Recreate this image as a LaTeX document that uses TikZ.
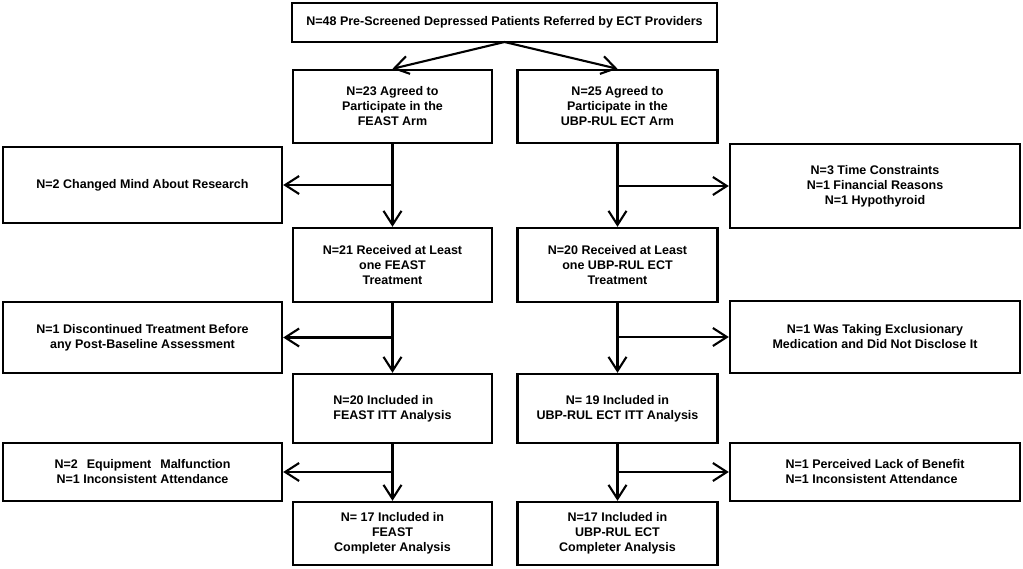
\documentclass[tikz,border=0pt]{standalone}
\usepackage{fontspec}
\setmainfont{Liberation Sans}
\usetikzlibrary{arrows.meta}
\begin{document}
\begin{tikzpicture}[x=1pt,y=-1pt,
  box/.style={draw, line width=2.4pt, rectangle, inner sep=0pt, align=center,
    font=\fontsize{12.5}{15}\selectfont\bfseries},
  txt/.style={align=left, font=\fontsize{12.5}{15}\selectfont\bfseries},
  arr/.style={line width=2.1pt, -{Straight Barb[length=14pt,width=18pt,line width=2.1pt]}}]
\useasboundingbox (0,0) rectangle (1023,569);
\node[box, minimum width=425pt, minimum height=39pt] (top) at (504.5,22.5)
  {N=48 Pre-Screened Depressed Patients Referred by ECT Providers};
\node[box, minimum width=199pt, minimum height=73pt] (f1) at (392.5,106.5)
  {N=23 Agreed to\\Participate in the\\FEAST Arm};
\node[box, minimum width=200pt, minimum height=73pt] (u1) at (617.5,106.5)
  {N=25 Agreed to\\Participate in the\\UBP-RUL ECT Arm};
\node[box, minimum width=279pt, minimum height=76pt] (l1) at (142.5,185)
  {N=2 Changed Mind About Research};
\node[box, minimum width=290pt, minimum height=84pt] (r1) at (875,186)
  {N=3 Time Constraints\\N=1 Financial Reasons\\N=1 Hypothyroid};
\node[box, minimum width=199pt, minimum height=74pt] (f2) at (392.5,265)
  {N=21 Received at Least\\one FEAST\\Treatment};
\node[box, minimum width=200pt, minimum height=74pt] (u2) at (617.5,265)
  {N=20 Received at Least\\one UBP-RUL ECT\\Treatment};
\node[box, minimum width=279pt, minimum height=71pt] (l2) at (142.5,337.5)
  {N=1 Discontinued Treatment Before\\any Post-Baseline Assessment};
\node[box, minimum width=290pt, minimum height=72pt] (r2) at (875,337)
  {N=1 Was Taking Exclusionary\\Medication and Did Not Disclose It};
\node[box, minimum width=199pt, minimum height=69pt] (f3) at (392.5,408.5) {};
\node[txt] (f3t) at (f3.center) {N=20 Included in\\FEAST ITT Analysis};
\node[box, minimum width=200pt, minimum height=69pt] (u3) at (617.5,408.5)
  {N= 19 Included in\\UBP-RUL ECT ITT Analysis};
\node[box, minimum width=279pt, minimum height=58pt] (l3) at (142.5,472)
  {N=2\hspace{9pt}Equipment\hspace{9pt}Malfunction\\N=1 Inconsistent Attendance};
\node[box, minimum width=290pt, minimum height=58pt] (r3) at (875,472) {};
\node[txt] (r3t) at (r3.center) {N=1 Perceived Lack of Benefit\\N=1 Inconsistent Attendance};
\node[box, minimum width=199pt, minimum height=63pt] (f4) at (392.5,533.5)
  {N= 17 Included in\\FEAST\\Completer Analysis};
\node[box, minimum width=200pt, minimum height=63pt] (u4) at (617.5,533.5)
  {N=17 Included in\\UBP-RUL ECT\\Completer Analysis};
% top split
\coordinate (ts) at (504.5,42);
\draw[arr] (ts) -- (f1.north);
\draw[arr] (ts) -- (u1.north);
% FEAST column
\draw[arr] (f1.south) -- (f2.north);
\draw[arr] (f2.south) -- (f3.north);
\draw[arr] (f3.south) -- (f4.north);
\draw[arr] (f1.south |- l1.east) -- (l1.east);
\draw[arr] (f2.south |- l2.east) -- (l2.east);
\draw[arr] (f3.south |- l3.east) -- (l3.east);
% UBP column
\draw[arr] (u1.south) -- (u2.north);
\draw[arr] (u2.south) -- (u3.north);
\draw[arr] (u3.south) -- (u4.north);
\draw[arr] (u1.south |- r1.west) -- (r1.west);
\draw[arr] (u2.south |- r2.west) -- (r2.west);
\draw[arr] (u3.south |- r3.west) -- (r3.west);
\end{tikzpicture}
\end{document}
